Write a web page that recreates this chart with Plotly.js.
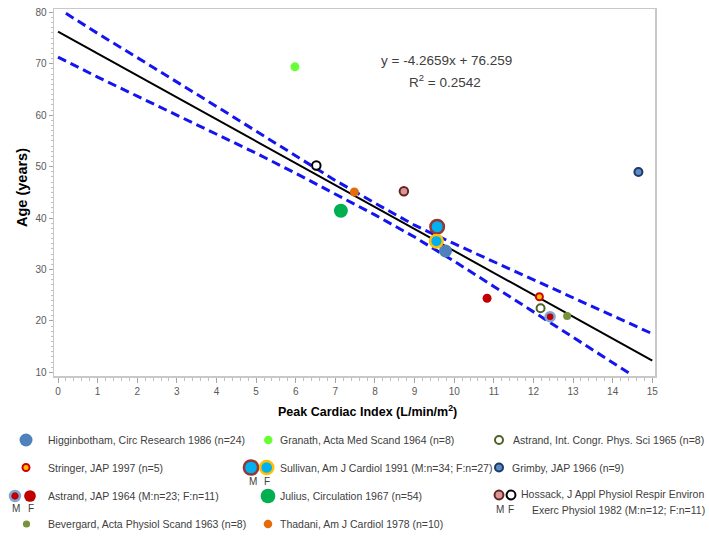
<!DOCTYPE html>
<html>
<head>
<meta charset="utf-8">
<script src="https://cdn.plot.ly/plotly-3.0.1.min.js"></script>
<style>
  html, body { margin: 0; padding: 0; background: #ffffff; }
  #chart { width: 709px; height: 538px; }
</style>
</head>
<body>
<div id="chart"></div>
<script>
// ---------------- DATA ----------------
const seriesNames = [
  "Higginbotham", "Granath", "Astrand 1965", "Stringer",
  "Sullivan M", "Sullivan F", "Grimby", "Astrand 1964 M", "Astrand 1964 F",
  "Julius", "Hossack M", "Hossack F", "Bevergard", "Thadani"
];
const cardiacIndex = [9.78, 5.98, 12.18, 12.15, 9.57, 9.55, 14.65, 12.42, 10.83, 7.14, 8.73, 6.52, 12.85, 7.48];
const ageYears     = [33.6, 69.4, 22.45, 24.7, 38.3, 35.5, 48.95, 20.8, 24.4, 41.4, 45.2, 50.2, 20.95, 45.06];

// regression line end points (from the equation shown)
const fitX = [0, 15];
const fitY = [76.26, 12.27];

// 95% confidence band
const upperX = [0.2, 1, 2, 3, 4, 5, 6, 7, 8, 9, 10, 11, 12, 13, 14, 15];
const upperY = [79.8, 75.9, 71.2, 66.5, 61.7, 56.9, 52.1, 47.3, 42.9, 38.6, 35.0, 31.5, 28.0, 24.5, 21.0, 17.5];
const lowerX = [0, 1, 2, 3, 4, 5, 6, 7, 8, 9, 10, 11, 12, 13, 14, 14.4];
const lowerY = [71.3, 67.4, 63.7, 60.0, 56.3, 52.6, 48.7, 44.7, 40.6, 36.3, 31.6, 26.7, 21.8, 16.9, 11.9, 9.9];

const equationText = "y = -4.2659x + 76.259";
const r2Text = "R<sup>2</sup> = 0.2542";
const xTitle = "Peak Cardiac Index (L/min/m<sup>2</sup>)";
const yTitle = "Age (years)";

const legendLabels = [
  "Higginbotham, Circ Research 1986 (n=24)",
  "Stringer, JAP 1997 (n=5)",
  "Astrand, JAP 1964 (M:n=23; F:n=11)",
  "Bevergard, Acta Physiol Scand 1963 (n=8)",
  "Granath, Acta Med Scand 1964 (n=8)",
  "Sullivan, Am J Cardiol 1991 (M:n=34; F:n=27)",
  "Julius, Circulation 1967 (n=54)",
  "Thadani, Am J Cardiol 1978 (n=10)",
  "Astrand, Int. Congr. Phys. Sci 1965 (n=8)",
  "Grimby, JAP 1966 (n=9)",
  "Hossack, J Appl Physiol Respir Environ",
  "Exerc Physiol 1982 (M:n=12; F:n=11)"
];

// ---------------- STYLES ----------------
const markerStyles = {
  "Higginbotham":   {size: 13, color: "#4F81BD", line: {width: 0}},
  "Granath":        {size: 9,  color: "#66FF33", line: {width: 0}},
  "Astrand 1965":   {size: 8,  color: "#FFFFFF", line: {width: 2, color: "#4F6228"}},
  "Stringer":       {size: 7,  color: "#FFC000", line: {width: 2, color: "#D00000"}},
  "Sullivan M":     {size: 13.5, color: "#00B0F0", line: {width: 2.5, color: "#953735"}},
  "Sullivan F":     {size: 12.5, color: "#00B0F0", line: {width: 2.5, color: "#FFC000"}},
  "Grimby":         {size: 8,  color: "#5B8BC9", line: {width: 2, color: "#1F3864"}},
  "Astrand 1964 M": {size: 9,  color: "#C00000", line: {width: 2.5, color: "#7FA6D6"}},
  "Astrand 1964 F": {size: 9,  color: "#C00000", line: {width: 0}},
  "Julius":         {size: 14, color: "#00B050", line: {width: 0}},
  "Hossack M":      {size: 8.5, color: "#D99694", line: {width: 2, color: "#632523"}},
  "Hossack F":      {size: 8.5, color: "#FFFFFF", line: {width: 2, color: "#000000"}},
  "Bevergard":      {size: 8,  color: "#77933C", line: {width: 0}},
  "Thadani":        {size: 9,  color: "#E46C0A", line: {width: 0}}
};

// legend layout (pixel positions in a full-figure overlay axis)
const legendMarkers = [
  {s: "Higginbotham",   x: 26,    y: 440,   scale: 1.0},
  {s: "Stringer",       x: 26,    y: 467.5, scale: 1.0},
  {s: "Astrand 1964 M", x: 15,    y: 496,   scale: 1.1},
  {s: "Astrand 1964 F", x: 30,    y: 496,   scale: 1.3},
  {s: "Bevergard",      x: 26.5,  y: 524,   scale: 0.9},
  {s: "Granath",        x: 268.3, y: 440,   scale: 0.95},
  {s: "Sullivan M",     x: 251,   y: 467.5, scale: 1.05},
  {s: "Sullivan F",     x: 266.7, y: 467.5, scale: 1.05},
  {s: "Julius",         x: 268,   y: 496,   scale: 1.05},
  {s: "Thadani",        x: 268,   y: 524,   scale: 0.95},
  {s: "Astrand 1965",   x: 499,   y: 440,   scale: 1.0},
  {s: "Grimby",         x: 499,   y: 467.5, scale: 1.0},
  {s: "Hossack M",      x: 499,   y: 495,   scale: 1.05},
  {s: "Hossack F",      x: 511,   y: 495,   scale: 1.05}
];
const legendTextPos = [
  {x: 46,  y: 440}, {x: 46,  y: 467.5}, {x: 46,  y: 496}, {x: 46,  y: 524},
  {x: 278, y: 440}, {x: 278, y: 467.5}, {x: 278, y: 496}, {x: 278, y: 524},
  {x: 511, y: 440}, {x: 510, y: 467.5}, {x: 519, y: 494}, {x: 530, y: 510}
];
const mfLabels = [
  {t: "M", x: 15.7, y: 508.5}, {t: "F", x: 31, y: 508.5},
  {t: "M", x: 252.7, y: 481}, {t: "F", x: 266.7, y: 481},
  {t: "M", x: 499.5, y: 509.5}, {t: "F", x: 510.5, y: 509.5}
];

// ---------------- GEOMETRY ----------------
const W = 709, H = 538;
const plotL = 54, plotR = 655, plotT = 9, plotB = 376;

// ---------------- TRACES ----------------
const traces = [];
traces.push({x: upperX, y: upperY, mode: "lines", type: "scatter", hoverinfo: "skip",
  line: {color: "#1414F0", width: 3, dash: "9px,5px"}, xaxis: "x", yaxis: "y"});
traces.push({x: lowerX, y: lowerY, mode: "lines", type: "scatter", hoverinfo: "skip",
  line: {color: "#1414F0", width: 3, dash: "9px,5px"}, xaxis: "x", yaxis: "y"});
traces.push({x: fitX, y: fitY, mode: "lines", type: "scatter", hoverinfo: "skip",
  line: {color: "#000000", width: 2}, xaxis: "x", yaxis: "y"});

seriesNames.forEach((n, i) => {
  const st = markerStyles[n];
  traces.push({
    x: [cardiacIndex[i]], y: [ageYears[i]], name: n, mode: "markers", type: "scatter",
    marker: {size: st.size, color: st.color, line: st.line, opacity: 1},
    cliponaxis: false, xaxis: "x", yaxis: "y"
  });
});

legendMarkers.forEach(m => {
  const st = markerStyles[m.s];
  traces.push({
    x: [m.x], y: [m.y], mode: "markers", type: "scatter", hoverinfo: "skip",
    marker: {size: st.size * m.scale, color: st.color, line: st.line},
    cliponaxis: false, xaxis: "x2", yaxis: "y2"
  });
});

// ---------------- ANNOTATIONS ----------------
const annotations = [];
annotations.push({text: equationText, x: 446, y: 60, xref: "x2", yref: "y2", showarrow: false,
  font: {family: "Liberation Sans, Arial, sans-serif", size: 13.5, color: "#404040"}, xanchor: "center", yanchor: "middle"});
annotations.push({text: r2Text, x: 445, y: 81, xref: "x2", yref: "y2", showarrow: false,
  font: {family: "Liberation Sans, Arial, sans-serif", size: 13.5, color: "#404040"}, xanchor: "center", yanchor: "middle"});
annotations.push({text: "<b>" + xTitle + "</b>", x: 367, y: 411, xref: "x2", yref: "y2", showarrow: false,
  font: {family: "Liberation Sans, Arial, sans-serif", size: 12.5, color: "#000000"}, xanchor: "center", yanchor: "middle"});
annotations.push({text: "<b>" + yTitle + "</b>", x: 22, y: 188, xref: "x2", yref: "y2", showarrow: false, textangle: -90,
  font: {family: "Liberation Sans, Arial, sans-serif", size: 14.5, color: "#000000"}, xanchor: "center", yanchor: "middle"});

legendLabels.forEach((t, i) => {
  annotations.push({text: t, x: legendTextPos[i].x, y: legendTextPos[i].y, xref: "x2", yref: "y2",
    showarrow: false, xanchor: "left", yanchor: "middle",
    font: {family: "Liberation Sans, Arial, sans-serif", size: 10.5, color: "#404040"}});
});
mfLabels.forEach(l => {
  annotations.push({text: l.t, x: l.x, y: l.y, xref: "x2", yref: "y2", showarrow: false,
    xanchor: "center", yanchor: "middle",
    font: {family: "Liberation Sans, Arial, sans-serif", size: 10, color: "#404040"}});
});

// ---------------- LAYOUT ----------------
const xPerPx = 15 / (652.3 - 58);
const yPerPx = 70 / (372.3 - 12.3);
const tickFont = {family: "Liberation Sans, Arial, sans-serif", size: 10, color: "#595959"};

const layout = {
  width: W, height: H,
  margin: {l: 0, r: 0, t: 0, b: 0, pad: 0},
  paper_bgcolor: "#ffffff",
  plot_bgcolor: "rgba(0,0,0,0)",
  showlegend: false,
  xaxis: {
    domain: [plotL / W, plotR / W],
    range: [(plotL - 58) * xPerPx, (plotR - 58) * xPerPx],
    tick0: 0, dtick: 1, ticks: "outside", ticklen: 5, tickwidth: 1, tickcolor: "#A6A6A6",
    minor: {dtick: 0.2, tick0: 0, ticks: "outside", ticklen: 3, tickcolor: "#BFBFBF", showgrid: false},
    showline: true, mirror: true, linecolor: "#C8C8C8", linewidth: 1.5,
    showgrid: false, zeroline: false, tickfont: tickFont, fixedrange: true, anchor: "y"
  },
  yaxis: {
    domain: [1 - plotB / H, 1 - plotT / H],
    range: [80 - (plotB - 12.3) * yPerPx, 80 + (12.3 - plotT) * yPerPx],
    tick0: 0, dtick: 10, ticks: "outside", ticklen: 4, tickwidth: 1, tickcolor: "#A6A6A6",
    minor: {dtick: 1, tick0: 0, ticks: "outside", ticklen: 2, tickcolor: "#BFBFBF", showgrid: false},
    showline: true, mirror: true, linecolor: "#C8C8C8", linewidth: 1.5,
    showgrid: false, zeroline: false, tickfont: tickFont, fixedrange: true, anchor: "x"
  },
  xaxis2: {domain: [0, 1], range: [0, W], visible: false, anchor: "y2", fixedrange: true},
  yaxis2: {domain: [0, 1], range: [H, 0], visible: false, anchor: "x2", fixedrange: true},
  annotations: annotations
};

Plotly.newPlot("chart", traces, layout, {displayModeBar: false, staticPlot: true});
</script>
</body>
</html>
